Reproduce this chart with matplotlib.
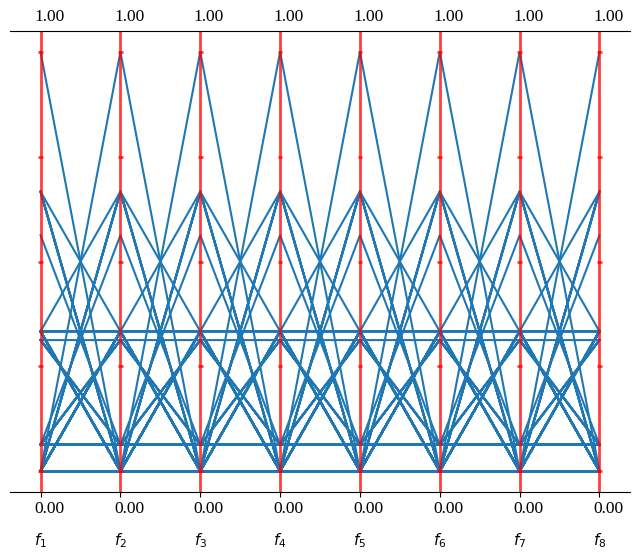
import numpy as np
import matplotlib
matplotlib.use("Agg")
import matplotlib.pyplot as plt

plt.rcParams['font.family'] = ['Liberation Serif', 'DejaVu Serif']
plt.rcParams['mathtext.fontset'] = 'dejavusans'

# objective labels
labels = [r"$f_{%d}$" % (i + 1) for i in range(8)]

# value levels used by each layer of directions
outer_levels = [0.0, 1 / 3, 2 / 3, 1.0]
inner_levels = [0.0625, 0.3125, 0.5625]

# outer layer: every digit indexes outer_levels
outer_rows = [
    "30000000", "03000000", "00300000", "00030000", "00003000", "00000300", "00000030", "00000003",
    "21000000", "20100000", "20010000", "20001000", "20000100", "20000010", "20000001",
    "12000000", "02100000", "02010000", "02001000", "02000100", "02000010", "02000001",
    "10200000", "01200000", "00210000", "00201000", "00200100", "00200010", "00200001",
    "10020000", "01020000", "00120000", "00021000", "00020100", "00020010", "00020001",
    "10002000", "01002000", "00102000", "00012000", "00002100", "00002010", "00002001",
    "10000200", "01000200", "00100200", "00010200", "00001200", "00000210", "00000201",
    "10000020", "01000020", "00100020", "00010020", "00001020", "00000120", "00000021",
    "10000002", "01000002", "00100002", "00010002", "00001002", "00000102", "00000012",
    "11100000", "11010000", "11001000", "11000100", "11000010", "11000001",
    "10110000", "10101000", "10100100", "10100010", "10100001",
    "10011000", "10010100", "10010010", "10010001",
    "10001100", "10001010", "10001001",
    "10000110", "10000101",
    "10000011",
    "01110000", "01101000", "01100100", "01100010", "01100001",
    "01011000", "01010100", "01010010", "01010001",
    "01001100", "01001010", "01001001",
    "01000110", "01000101",
    "01000011",
    "00111000", "00110100", "00110010", "00110001",
    "00101100", "00101010", "00101001",
    "00100110", "00100101",
    "00100011",
    "00011100", "00011010", "00011001",
    "00010110", "00010101",
    "00010011",
    "00001110", "00001101",
    "00001011",
    "00000111",
]

# inner layer: every digit indexes inner_levels
inner_rows = [
    "20000000", "02000000", "00200000", "00020000", "00002000", "00000200", "00000020", "00000002",
    "11000000", "10100000", "10010000", "10001000", "10000100", "10000010", "10000001",
    "01100000", "01010000", "01001000", "01000100", "01000010", "01000001",
    "00110000", "00101000", "00100100", "00100010", "00100001",
    "00011000", "00010100", "00010010", "00010001",
    "00001100", "00001010", "00001001",
    "00000110", "00000101",
    "00000011",
]

lower_bounds = [0.0] * 8
upper_bounds = [1.0] * 8

F = np.array([[outer_levels[int(c)] for c in r] for r in outer_rows]
             + [[inner_levels[int(c)] for c in r] for r in inner_rows])

fig, ax = plt.subplots(figsize=(6.4, 5.6), dpi=100)
fig.subplots_adjust(left=10 / 640, right=630 / 640, top=1 - 31 / 560, bottom=1 - 492 / 560)

# a. normalize and draw each row
_F = (F - np.array(lower_bounds)) / (np.array(upper_bounds) - np.array(lower_bounds))
x = np.arange(F.shape[1])
for row in _F:
    ax.plot(x, row, color="C0", linewidth=1.5)

# b. vertical axes with bounds and ticks
axis_style = dict(color="red", linewidth=2, alpha=0.75)
for i in range(F.shape[1]):
    ax.axvline(i, **axis_style)
    ax.text(i - 0.08, -0.1, "%.2f" % lower_bounds[i], fontsize=12.5)
    ax.text(i - 0.08, 1.075, "%.2f" % upper_bounds[i], fontsize=12.5)
    for y in np.linspace(0, 1, 5):
        ax.hlines(y, i - 0.03, i + 0.03, **axis_style)

ax.tick_params(axis='x', which='major', pad=25)
ax.spines['right'].set_visible(False)
ax.spines['left'].set_visible(False)
ax.set_yticks([])
ax.set_ylim((-0.05, 1.05))
ax.set_xticks(x)
ax.set_xticklabels(labels, fontsize=11)

fig.savefig("out.png", dpi=100)
